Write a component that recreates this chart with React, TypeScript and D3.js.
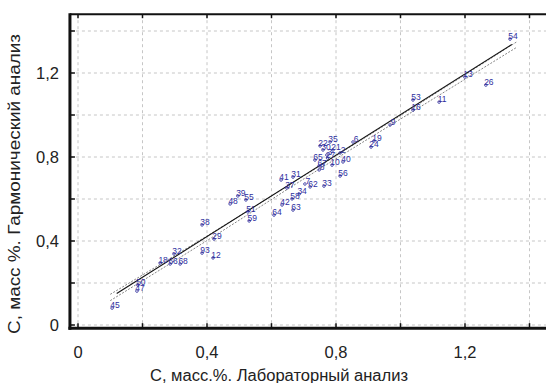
import React, { useEffect, useRef } from "react";
import * as d3 from "d3";

// point labels and values
const labels = [
    "54", "13", "26", "53", "11", "16", "9", "6", "19", "24",
    "35", "30", "21", "3", "2", "65", "67", "10", "40", "56",
    "8", "31", "41", "37", "34", "7", "62", "33", "58", "42",
    "63", "64", "39", "48", "55", "51", "59", "38", "29", "93",
    "12", "32", "18", "66", "68", "50", "47", "45", "22", "27",
];
const labX = [
    1.349, 1.209, 1.274, 1.048, 1.129, 1.048, 0.977, 0.862, 0.927, 0.918,
    0.791, 0.769, 0.800, 0.781, 0.822, 0.744, 0.757, 0.797, 0.831, 0.822,
    0.757, 0.676, 0.639, 0.657, 0.695, 0.713, 0.729, 0.772, 0.673, 0.642,
    0.676, 0.617, 0.505, 0.481, 0.530, 0.536, 0.540, 0.394, 0.431, 0.394,
    0.428, 0.307, 0.264, 0.295, 0.326, 0.195, 0.192, 0.115, 0.760, 0.783,
];
const garmY = [
    1.371, 1.190, 1.152, 1.081, 1.071, 1.033, 0.962, 0.881, 0.886, 0.857,
    0.881, 0.843, 0.843, 0.819, 0.829, 0.795, 0.767, 0.771, 0.786, 0.719,
    0.748, 0.714, 0.700, 0.662, 0.633, 0.681, 0.667, 0.671, 0.610, 0.581,
    0.557, 0.533, 0.624, 0.586, 0.605, 0.548, 0.505, 0.486, 0.419, 0.352,
    0.329, 0.348, 0.305, 0.300, 0.300, 0.200, 0.171, 0.090, 0.862, 0.805,
];

// regression line and confidence band
const fitX = [0.12, 1.345];
const fitY = [0.150, 1.336];
const bandX = [0.10, 0.40, 0.75, 1.05, 1.36];
const bandUpper = [0.146, 0.424, 0.758, 1.046, 1.348];
const bandLower = [0.116, 0.402, 0.744, 1.028, 1.322];

const xTicks = [0, 0.4, 0.8, 1.2];
const yTicks = [0, 0.4, 0.8, 1.2];
const gridValues = [0, 0.2, 0.4, 0.6, 0.8, 1.0, 1.2, 1.4];

const xTitle = "С, масс.%. Лабораторный анализ";
const yTitle = "С, масс %. Гармонический анализ";

export default function App() {
    const svgRef = useRef<SVGSVGElement | null>(null);

    useEffect(() => {
        if (!svgRef.current) return;
        const svg = d3.select(svgRef.current);
        svg.selectAll("*").remove();

        const width = 546, height = 383;
        const x = d3.scaleLinear().domain([0, 1.4]).range([78, 529.5]);
        const y = d3.scaleLinear().domain([0, 1.2]).range([325, 73]);
        const left = x(-0.025), right = width, top = y(1.48), bottom = y(-0.015);
        const fmt = (v: number) => String(v).replace(".", ",");
        const font = "Liberation Sans, Arial, sans-serif";

        svg.append("rect").attr("width", width).attr("height", height).attr("fill", "#fff");

        // grid
        const grid = svg.append("g").attr("stroke", "#b8b8b8").attr("stroke-width", 0.8)
            .attr("stroke-dasharray", "3,3");
        grid.selectAll("line.v").data(gridValues).join("line").attr("class", "v")
            .attr("x1", d => x(d)).attr("x2", d => x(d)).attr("y1", top).attr("y2", bottom);
        grid.selectAll("line.h").data(gridValues).join("line").attr("class", "h")
            .attr("y1", d => y(d)).attr("y2", d => y(d)).attr("x1", left).attr("x2", right);

        // band
        const bandLine = (ys: number[]) => d3.line<number>()
            .x((_, i) => x(bandX[i])).y((d) => y(d)).curve(d3.curveMonotoneX)(ys);
        svg.append("path").attr("d", bandLine(bandUpper)).attr("fill", "none")
            .attr("stroke", "#777").attr("stroke-width", 0.9).attr("stroke-dasharray", "2,1.5");
        svg.append("path").attr("d", bandLine(bandLower)).attr("fill", "none")
            .attr("stroke", "#777").attr("stroke-width", 0.9).attr("stroke-dasharray", "2,1.5");
        svg.append("line")
            .attr("x1", x(fitX[0])).attr("y1", y(fitY[0]))
            .attr("x2", x(fitX[1])).attr("y2", y(fitY[1]))
            .attr("stroke", "#111").attr("stroke-width", 1.1);

        // points
        const pts = labels.map((l, i) => ({ l, vx: labX[i], vy: garmY[i] }));
        svg.append("g").selectAll("circle").data(pts).join("circle")
            .attr("cx", d => x(d.vx) - 3).attr("cy", d => y(d.vy) + 2)
            .attr("r", 1.3).attr("fill", "none").attr("stroke", "#2b2b9c").attr("stroke-width", 0.8);
        svg.append("g").selectAll("text").data(pts).join("text")
            .attr("x", d => x(d.vx)).attr("y", d => y(d.vy))
            .attr("text-anchor", "middle").attr("dominant-baseline", "middle")
            .attr("font-family", font).attr("font-size", 8.5)
            .attr("fill", "#2e2e9e").text(d => d.l);

        // frame
        const frame = svg.append("g").attr("stroke", "#111");
        frame.append("line").attr("x1", left).attr("x2", left).attr("y1", top - 1).attr("y2", bottom + 1.5)
            .attr("stroke-width", 3);
        frame.append("line").attr("x1", left - 1.5).attr("x2", right).attr("y1", bottom).attr("y2", bottom)
            .attr("stroke-width", 3);
        frame.append("line").attr("x1", left).attr("x2", right).attr("y1", top).attr("y2", top)
            .attr("stroke-width", 2);
        frame.selectAll("line.tl").data(gridValues).join("line").attr("class", "tl")
            .attr("x1", left).attr("x2", left + 5).attr("y1", d => y(d)).attr("y2", d => y(d))
            .attr("stroke-width", 1.5);
        frame.selectAll("line.tb").data(gridValues).join("line").attr("class", "tb")
            .attr("x1", d => x(d)).attr("x2", d => x(d)).attr("y1", bottom).attr("y2", bottom - 5)
            .attr("stroke-width", 1.5);
        frame.selectAll("line.tt").data(gridValues).join("line").attr("class", "tt")
            .attr("x1", d => x(d)).attr("x2", d => x(d)).attr("y1", top).attr("y2", top + 4)
            .attr("stroke-width", 1.5);

        // tick labels
        svg.append("g").selectAll("text").data(xTicks).join("text")
            .attr("x", d => x(d)).attr("y", 358).attr("text-anchor", "middle")
            .attr("font-family", font).attr("font-size", 16.5).attr("fill", "#222")
            .text(d => fmt(d));
        svg.append("g").selectAll("text").data(yTicks).join("text")
            .attr("x", 59).attr("y", d => y(d) + 6).attr("text-anchor", "end")
            .attr("font-family", font).attr("font-size", 16.5).attr("fill", "#222")
            .text(d => fmt(d));

        // titles
        svg.append("text").attr("x", 279).attr("y", 381).attr("text-anchor", "middle")
            .attr("font-family", font).attr("font-size", 16).attr("fill", "#222")
            .attr("textLength", 258).attr("lengthAdjust", "spacingAndGlyphs").text(xTitle);
        svg.append("text").attr("transform", "translate(20,184) rotate(-90)")
            .attr("text-anchor", "middle")
            .attr("font-family", font).attr("font-size", 16).attr("fill", "#222")
            .attr("textLength", 300).attr("lengthAdjust", "spacingAndGlyphs").text(yTitle);
    }, []);

    return (
        <div style={{ position: "absolute", left: 0, top: 0 }}>
            <svg ref={svgRef} width={546} height={383} style={{ display: "block" }} />
        </div>
    );
}
